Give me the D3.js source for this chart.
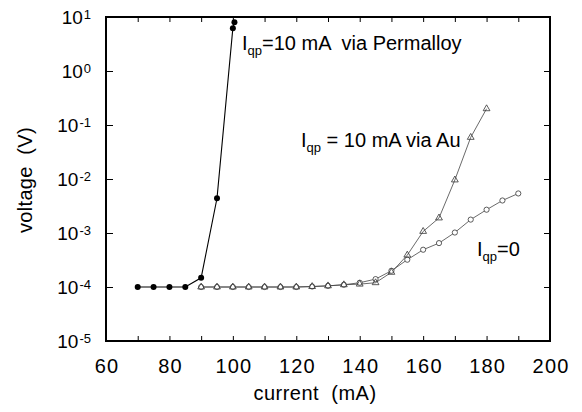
<!DOCTYPE html>
<html><head><meta charset="utf-8">
<script src="https://cdn.jsdelivr.net/npm/d3@7/dist/d3.min.js"></script>
<style>
html,body{margin:0;padding:0;background:#fff;}
text{font-family:"Liberation Sans",Arial,Helvetica,sans-serif;fill:#000;}
</style></head>
<body>
<svg id="c" width="582" height="412"></svg>
<script>
// ---- data ----
const permalloyCurrent = [70, 75, 80, 85, 90, 95, 100, 100.5];
const permalloyVoltage = [1e-4, 1e-4, 1e-4, 1e-4, 1.48e-4, 4.4e-3, 6.2, 8.0];

const auCurrent = [90, 95, 100, 105, 110, 115, 120, 125, 130, 135, 140, 145, 150, 155, 160, 165, 170, 175, 180];
const auVoltage = [1e-4, 1e-4, 1e-4, 1e-4, 1e-4, 1e-4, 1.0e-4, 1.02e-4, 1.05e-4, 1.1e-4, 1.13e-4, 1.2e-4, 1.87e-4, 3.9e-4, 1.07e-3, 1.9e-3, 9.6e-3, 0.059, 0.20];

const zeroCurrent = [90, 95, 100, 105, 110, 115, 120, 125, 130, 135, 140, 145, 150, 155, 160, 165, 170, 175, 180, 185, 190];
const zeroVoltage = [1e-4, 1e-4, 1e-4, 1e-4, 1e-4, 1e-4, 1.0e-4, 1.02e-4, 1.05e-4, 1.1e-4, 1.2e-4, 1.4e-4, 2.0e-4, 3.2e-4, 4.9e-4, 6.5e-4, 1.02e-3, 1.77e-3, 2.7e-3, 4.0e-3, 5.4e-3];

const xTicks = [60, 70, 80, 90, 100, 110, 120, 130, 140, 150, 160, 170, 180, 190, 200];
const xTickLabels = [60, 80, 100, 120, 140, 160, 180, 200];
const yTickExponents = [1, 0, -1, -2, -3, -4, -5];

const xTitle = "current  (mA)";
const yTitle = "voltage  (V)";

// ---- layout ----
const L = 106, R = 550, T = 17, B = 341;
const svg = d3.select("#c");
const x = d3.scaleLinear().domain([60, 200]).range([L, R]);
const y = d3.scaleLog().domain([1e-5, 10]).range([B, T]);

// x axis bottom (inward ticks)
svg.append("g").attr("transform", `translate(0,${B})`)
  .call(d3.axisBottom(x).tickValues(xTicks).tickSizeInner(-5).tickSizeOuter(0).tickPadding(18)
    .tickFormat(d => xTickLabels.includes(d) ? String(d) : ""))
  .call(g => g.select(".domain").remove())
  .call(g => g.selectAll(".tick line").attr("stroke", "#000").attr("stroke-width", 1))
  .call(g => g.selectAll(".tick text").attr("font-size", 20).attr("letter-spacing", 1.2)
    .attr("dx", 0.6).attr("font-family", "Liberation Sans, Arial, sans-serif").attr("fill", "#000"));

// x axis top ticks
svg.append("g").attr("transform", `translate(0,${T})`)
  .call(d3.axisTop(x).tickValues(xTicks).tickSizeInner(-5).tickSizeOuter(0).tickFormat(() => ""))
  .call(g => g.select(".domain").remove())
  .call(g => g.selectAll(".tick line").attr("stroke", "#000").attr("stroke-width", 1));

// y axis left
const yTickVals = yTickExponents.map(e => Math.pow(10, e));
svg.append("g").attr("transform", `translate(${L},0)`)
  .call(d3.axisLeft(y).tickValues(yTickVals).tickSizeInner(-7).tickSizeOuter(0).tickFormat(() => ""))
  .call(g => g.select(".domain").remove())
  .call(g => g.selectAll(".tick line").attr("stroke", "#000").attr("stroke-width", 1));
// y axis right
svg.append("g").attr("transform", `translate(${R},0)`)
  .call(d3.axisRight(y).tickValues(yTickVals).tickSizeInner(-6).tickSizeOuter(0).tickFormat(() => ""))
  .call(g => g.select(".domain").remove())
  .call(g => g.selectAll(".tick line").attr("stroke", "#000").attr("stroke-width", 1));

// y tick labels with superscripts
yTickExponents.forEach(e => {
  const t = svg.append("text").attr("x", 91).attr("y", y(Math.pow(10, e)) + 7)
    .attr("text-anchor", "end").attr("font-size", 19);
  t.append("tspan").text("10");
  t.append("tspan").attr("font-size", 13).attr("dx", 1).attr("dy", -5).text(e < 0 ? "-" + (-e) : String(e));
});

// frame
svg.append("rect").attr("x", L).attr("y", T).attr("width", R - L).attr("height", B - T)
  .attr("fill", "none").attr("stroke", "#000").attr("stroke-width", 2);

// titles
svg.append("text").attr("x", 315).attr("y", 400).attr("text-anchor", "middle")
  .attr("font-size", 20).attr("letter-spacing", 0.5).style("white-space", "pre").text(xTitle);
svg.append("text").attr("transform", "translate(32,180) rotate(-90)").attr("text-anchor", "middle")
  .attr("font-size", 20).attr("letter-spacing", 0.3).style("white-space", "pre").text(yTitle);

// series
const line = d3.line().x(d => x(d[0])).y(d => y(d[1]));
const zip = (a, b) => a.map((v, i) => [v, b[i]]);
const perm = zip(permalloyCurrent, permalloyVoltage);
const au = zip(auCurrent, auVoltage);
const zero = zip(zeroCurrent, zeroVoltage);

svg.append("path").datum(zero).attr("d", line).attr("fill", "none").attr("stroke", "#444").attr("stroke-width", 0.8);
svg.append("path").datum(au).attr("d", line).attr("fill", "none").attr("stroke", "#444").attr("stroke-width", 0.8);
svg.append("path").datum(perm).attr("d", line).attr("fill", "none").attr("stroke", "#000").attr("stroke-width", 1.1);

svg.append("g").selectAll("circle").data(zero).join("circle")
  .attr("cx", d => x(d[0])).attr("cy", d => y(d[1])).attr("r", 2.6)
  .attr("fill", "#fff").attr("stroke", "#333").attr("stroke-width", 0.8);
const tri = d3.symbol().type(d3.symbolTriangle).size(20);
svg.append("g").selectAll("path").data(au).join("path")
  .attr("transform", d => `translate(${x(d[0])},${y(d[1])})`).attr("d", tri)
  .attr("fill", "none").attr("stroke", "#333").attr("stroke-width", 0.8);
svg.append("g").selectAll("circle").data(perm).join("circle")
  .attr("cx", d => x(d[0])).attr("cy", d => y(d[1])).attr("r", 3)
  .attr("fill", "#000");

// annotations
function label(xp, yp, rest) {
  const t = svg.append("text").attr("x", xp).attr("y", yp).attr("font-size", 20).style("white-space", "pre");
  t.append("tspan").text("I");
  t.append("tspan").attr("font-size", 13).attr("dy", 5).text("qp");
  t.append("tspan").attr("dy", -5).text(rest);
}
label(242, 50, "=10 mA  via Permalloy");
label(301, 147, " = 10 mA via Au");
label(477, 256, "=0");
</script>
</body></html>
